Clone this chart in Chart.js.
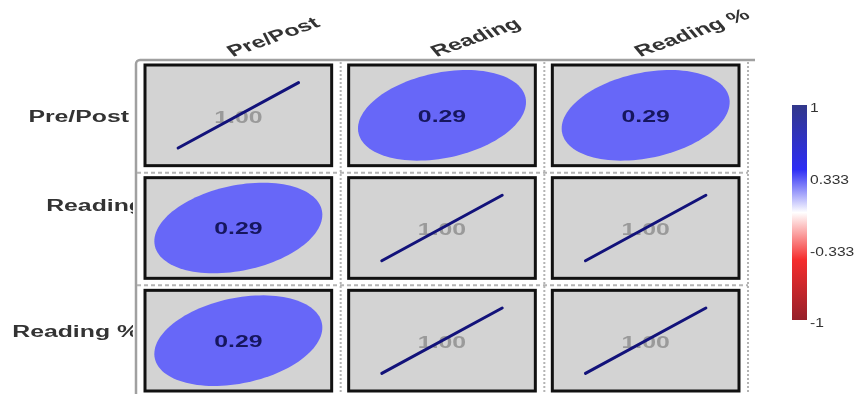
<!DOCTYPE html>
<html>
<head>
<meta charset="utf-8">
<script src="https://cdn.jsdelivr.net/npm/chart.js@4/dist/chart.umd.min.js"></script>
<style>
  html, body { margin: 0; padding: 0; background: #fff; overflow: hidden; }
  #wrap { position: relative; width: 857px; height: 400px; }
</style>
</head>
<body>
<div id="wrap"><canvas id="c" width="857" height="400"></canvas></div>
<script>
// Variables and their pairwise correlations
const variables = ['Pre/Post', 'Reading', 'Reading %'];
const correlations = [
  [1.00, 0.29, 0.29],
  [0.29, 1.00, 1.00],
  [0.29, 1.00, 1.00]
];
// Colour legend ticks
const colorbarTicks = [1, 0.333, -0.333, -1];
const colorbarLabels = ['1', '0.333', '-0.333', '-1'];

// ---- styling ----
const FONT = '"Liberation Sans", Arial, sans-serif';
const TEXT_STRETCH = 1.55;
const CELL_INSET = { left: 8, right: 9, top: 5, bottom: 7 };
const ELLIPSE_EXTENT = { x: 0.9, y: 0.9 };
const LINE_EXTENT = { x: 0.645, y: 0.65 };
const ROW_LABEL_LAYOUT = [ { right: 129, y: 118 }, { right: 144, y: 207 }, { right: 139, y: 333 } ];
const COLORBAR_BOX = { left: 792, width: 15, top: 105, bottom: 320 };

// diverging ramp: -1 dark red ... 0 white ... 1 dark blue
const rampStops = [
  [0.00, [50, 56, 138]],
  [0.30, [45, 45, 245]],
  [0.50, [255, 255, 255]],
  [0.72, [245, 45, 45]],
  [1.00, [150, 32, 42]]
];
function rampAt(pos) {
  for (let k = 1; k < rampStops.length; k++) {
    const [p1, c1] = rampStops[k];
    const [p0, c0] = rampStops[k - 1];
    if (pos <= p1) {
      const t = (pos - p0) / (p1 - p0);
      const c = c0.map((v, i) => Math.round(v + (c1[i] - v) * t));
      return `rgb(${c[0]},${c[1]},${c[2]})`;
    }
  }
  const c = rampStops[rampStops.length - 1][1];
  return `rgb(${c[0]},${c[1]},${c[2]})`;
}
const colorFor = r => rampAt((1 - r) / 2);

function stretchedText(ctx, text, x, y, rotation) {
  ctx.save();
  ctx.translate(x, y);
  ctx.scale(TEXT_STRETCH, 1);
  if (rotation) ctx.rotate(rotation);
  ctx.fillText(text, 0, 0);
  ctx.restore();
}

const corrPlot = {
  id: 'corrPlot',
  beforeDatasetsDraw(chart) {
    const { ctx, chartArea: a, scales: { x, y } } = chart;
    const n = variables.length;
    ctx.save();

    // outer frame (top + left)
    ctx.strokeStyle = '#a0a0a0';
    ctx.lineWidth = 2.5;
    ctx.beginPath();
    ctx.moveTo(a.left - 1, a.bottom + 10);
    ctx.lineTo(a.left - 1, a.top + 4);
    ctx.arcTo(a.left - 1, a.top, a.left + 4, a.top, 4);
    ctx.lineTo(a.right + 7, a.top);
    ctx.stroke();

    // dashed separators between cells
    ctx.strokeStyle = '#b4b4b4';
    ctx.lineWidth = 2;
    ctx.setLineDash([2, 2]);
    for (let j = 1; j <= n; j++) {
      const px = x.getPixelForValue(j);
      ctx.beginPath();
      ctx.moveTo(px, a.top + 2);
      ctx.lineTo(px, a.bottom + 10);
      ctx.stroke();
    }
    ctx.setLineDash([4, 3]);
    for (let i = 1; i < n; i++) {
      const py = y.getPixelForValue(i);
      ctx.beginPath();
      ctx.moveTo(a.left, py);
      ctx.lineTo(a.right, py);
      ctx.stroke();
    }
    ctx.setLineDash([]);

    // cells
    for (let i = 0; i < n; i++) {
      for (let j = 0; j < n; j++) {
        const r = correlations[i][j];
        const x0 = x.getPixelForValue(j) + CELL_INSET.left;
        const x1 = x.getPixelForValue(j + 1) - CELL_INSET.right;
        const y0 = y.getPixelForValue(i) + CELL_INSET.top;
        const y1 = y.getPixelForValue(i + 1) - CELL_INSET.bottom;
        const cx = (x0 + x1) / 2, cy = (y0 + y1) / 2;
        const hw = (x1 - x0) / 2, hh = (y1 - y0) / 2;

        ctx.fillStyle = '#d3d3d3';
        ctx.fillRect(x0, y0, x1 - x0, y1 - y0);
        ctx.strokeStyle = '#111';
        ctx.lineWidth = 3;
        ctx.strokeRect(x0, y0, x1 - x0, y1 - y0);

        const d = Math.acos(Math.max(-1, Math.min(1, r)));
        ctx.textAlign = 'center';
        ctx.textBaseline = 'middle';
        ctx.font = 'bold 16px ' + FONT;
        if (Math.abs(r) >= 0.999) {
          // perfect correlation collapses the ellipse to a line
          ctx.fillStyle = '#9a9a9a';
          stretchedText(ctx, r.toFixed(2), cx, cy + 3);
          ctx.strokeStyle = '#12127a';
          ctx.lineWidth = 3;
          ctx.lineCap = 'round';
          ctx.beginPath();
          const ex = LINE_EXTENT.x * hw, ey = LINE_EXTENT.y * hh;
          ctx.moveTo(cx + ex * Math.cos(Math.PI + d / 2), cy - ey * Math.cos(Math.PI - d / 2));
          ctx.lineTo(cx + ex * Math.cos(d / 2), cy - ey * Math.cos(-d / 2));
          ctx.stroke();
        } else {
          const ex = ELLIPSE_EXTENT.x * hw, ey = ELLIPSE_EXTENT.y * hh;
          ctx.fillStyle = colorFor(r);
          ctx.beginPath();
          for (let s = 0; s <= 120; s++) {
            const t = s / 120 * Math.PI * 2;
            const px = cx + ex * Math.cos(t + d / 2);
            const py = cy - ey * Math.cos(t - d / 2);
            if (s === 0) ctx.moveTo(px, py); else ctx.lineTo(px, py);
          }
          ctx.closePath();
          ctx.fill();
          ctx.fillStyle = '#16165e';
          stretchedText(ctx, r.toFixed(2), cx, cy + 2);
        }
      }
    }

    // column labels
    ctx.fillStyle = '#333';
    ctx.font = 'bold 16px ' + FONT;
    ctx.textAlign = 'left';
    ctx.textBaseline = 'alphabetic';
    variables.forEach((v, j) => {
      const cxp = (x.getPixelForValue(j) + x.getPixelForValue(j + 1)) / 2;
      stretchedText(ctx, v, cxp - 6, a.top - 3, -0.5);
    });

    // row labels (clipped at the frame)
    ctx.save();
    ctx.beginPath();
    ctx.rect(0, 0, a.left - 4, chart.height);
    ctx.clip();
    ctx.textAlign = 'right';
    ctx.textBaseline = 'middle';
    variables.forEach((v, i) => {
      const L = ROW_LABEL_LAYOUT[i];
      stretchedText(ctx, v, L.right, L.y);
    });
    ctx.restore();

    // colour bar
    const cb = COLORBAR_BOX;
    const grad = ctx.createLinearGradient(0, cb.top, 0, cb.bottom);
    rampStops.forEach(([p]) => grad.addColorStop(p, rampAt(p)));
    ctx.fillStyle = grad;
    ctx.fillRect(cb.left, cb.top, cb.width, cb.bottom - cb.top);
    ctx.fillStyle = '#333';
    ctx.font = '12px ' + FONT;
    ctx.textAlign = 'left';
    ctx.textBaseline = 'middle';
    colorbarTicks.forEach((v, k) => {
      const py = cb.top + (1 - v) / 2 * (cb.bottom - cb.top);
      ctx.save();
      ctx.translate(cb.left + cb.width + 3, py + 4);
      ctx.scale(1.3, 1);
      ctx.fillText(colorbarLabels[k], 0, 0);
      ctx.restore();
    });

    ctx.restore();
  }
};

// one point per matrix cell, placed on the cell centre
const cellPoints = [];
correlations.forEach((row, i) => row.forEach((r, j) => cellPoints.push({ x: j + 0.5, y: i + 0.5, r })));

new Chart(document.getElementById('c'), {
  type: 'scatter',
  data: { datasets: [{ data: cellPoints, pointRadius: 0, pointHoverRadius: 0 }] },
  options: {
    responsive: false,
    animation: false,
    events: [],
    layout: { padding: { left: 137, top: 60, right: 109, bottom: 2 } },
    plugins: { legend: { display: false }, tooltip: { enabled: false } },
    scales: {
      x: { type: 'linear', min: 0, max: 3, display: false },
      y: { type: 'linear', min: 0, max: 3, reverse: true, display: false }
    }
  },
  plugins: [corrPlot]
});
</script>
</body>
</html>
